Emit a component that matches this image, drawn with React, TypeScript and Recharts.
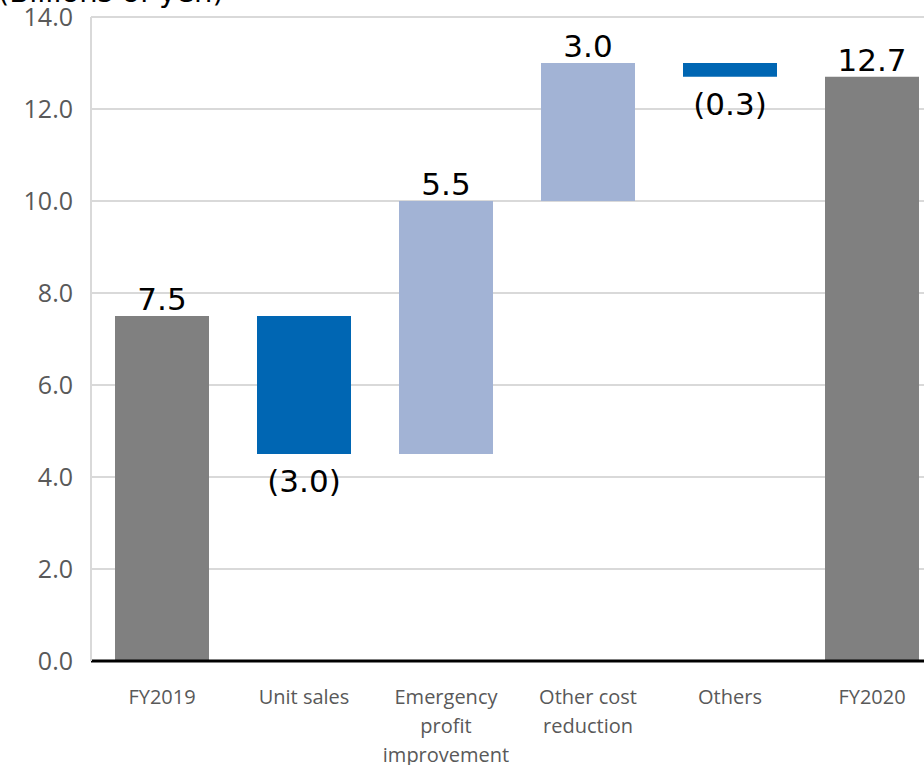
import { BarChart, Bar, XAxis, YAxis, CartesianGrid, LabelList, Cell } from "recharts";
import { ReactElement } from "react";

const categories = [
  "FY2019",
  "Unit sales",
  "Emergency profit improvement",
  "Other cost reduction",
  "Others",
  "FY2020",
];
const tickLines = [
  ["FY2019"],
  ["Unit sales"],
  ["Emergency", "profit", "improvement"],
  ["Other cost", "reduction"],
  ["Others"],
  ["FY2020"],
];
const changes = [7.5, -3.0, 5.5, 3.0, -0.3, 12.7];
const isTotal = [true, false, false, false, false, true];
const yTicks = [0, 2, 4, 6, 8, 10, 12, 14];

const GRAY = "#808080";
const DARK = "#0066B3";
const LIGHT = "#A2B3D5";

// running totals -> invisible base + visible step
let running = 0;
const data = categories.map((name, i) => {
  const v = changes[i];
  let base: number;
  if (isTotal[i]) {
    base = 0;
    running = v;
  } else {
    base = v < 0 ? running + v : running;
    running = running + v;
  }
  return { name, base, step: Math.abs(v), change: v, total: isTotal[i] };
});

const fmt = (v: number) => (v < 0 ? `(${Math.abs(v).toFixed(1)})` : v.toFixed(1));

const StepLabel = (props: any) => {
  const { x, y, width, height, index } = props;
  const v = changes[index];
  const cy = v < 0 ? y + height + 27 : y - 17;
  return (
    <text
      x={x + width / 2}
      y={cy}
      textAnchor="middle"
      dominantBaseline="central"
      fontFamily="DejaVu Sans"
      fontSize={31}
      fill="#000"
    >
      {fmt(v)}
    </text>
  );
};

const CatTick = (props: any) => {
  const { x, y, index } = props;
  const lines = tickLines[index] || [];
  return (
    <g>
      {lines.map((l, k) => (
        <text
          key={k}
          x={x}
          y={y + 27 + k * 29}
          textAnchor="middle"
          dominantBaseline="central"
          fontFamily="Open Sans"
          fontSize={20}
          fill="#595959"
        >
          {l}
        </text>
      ))}
    </g>
  );
};

export const App = (): ReactElement => {
  return (
    <div
      style={{
        position: "absolute",
        top: 0,
        left: 0,
        width: 924,
        height: 765,
        overflow: "hidden",
        background: "#fff",
      }}
    >
      <svg
        width={924}
        height={20}
        style={{ position: "absolute", top: 0, left: 0, zIndex: 2 }}
      >
        <text x={-2} y={2} fontFamily="DejaVu Sans" fontSize={29} fill="#000">
          (Billions of yen)
        </text>
      </svg>
      <div style={{ position: "absolute", top: -30, left: 0 }}>
        <BarChart
          width={960}
          height={800}
          data={data}
          margin={{ top: 47, right: 17, left: 0, bottom: 19 }}
          barSize={94}
        >
          <CartesianGrid vertical={false} stroke="#d9d9d9" strokeWidth={2} />
          <XAxis
            dataKey="name"
            interval={0}
            height={90}
            tickLine={false}
            axisLine={{ stroke: "#000", strokeWidth: 3 }}
            tick={<CatTick />}
          />
          <YAxis
            width={91}
            domain={[0, 14]}
            ticks={yTicks}
            tickFormatter={(v: number) => v.toFixed(1)}
            tickLine={false}
            tickSize={0}
            tickMargin={18}
            axisLine={{ stroke: "#d9d9d9", strokeWidth: 2 }}
            tick={{ fontFamily: "Open Sans", fontSize: 25, fill: "#595959" }}
          />
          <Bar dataKey="base" stackId="w" fill="transparent" isAnimationActive={false} />
          <Bar dataKey="step" stackId="w" isAnimationActive={false}>
            {data.map((d, i) => (
              <Cell key={i} fill={d.total ? GRAY : d.change < 0 ? DARK : LIGHT} />
            ))}
            <LabelList dataKey="step" content={<StepLabel />} />
          </Bar>
        </BarChart>
      </div>
    </div>
  );
};

export default App;
